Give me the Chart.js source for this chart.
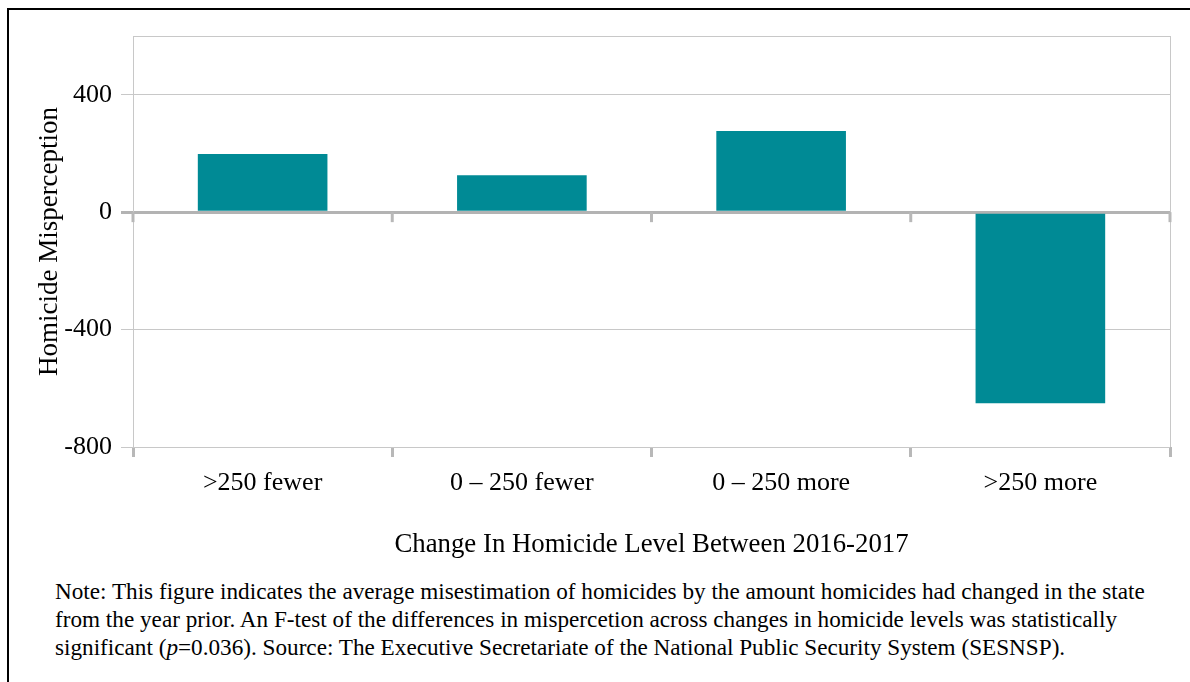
<!DOCTYPE html>
<html>
<head>
<meta charset="utf-8">
<script src="https://cdn.jsdelivr.net/npm/chart.js@4"></script>
<style>
  body { margin: 0; background: #fff; }
  #frame { position: absolute; left: 7px; top: 8px; width: 1200px; height: 700px; border: 2px solid #000; }
  #wrap { position: absolute; left: 0; top: 0; width: 1190px; height: 570px; }
  #note { position: absolute; left: 55px; top: 577px; font-family: "Liberation Serif", serif; font-size: 23.2px; line-height: 28px; color: #000; white-space: nowrap; }
</style>
</head>
<body>
<div id="frame"></div>
<div id="wrap"><canvas id="chartCanvas" width="1190" height="570"></canvas></div>
<div id="note">Note: This figure indicates the average misestimation of homicides by the amount homicides had changed in the state<br>from the year prior. An F-test of the differences in mispercetion across changes in homicide levels was statistically<br>significant (<i>p</i>=0.036). Source: The Executive Secretariate of the National Public Security System (SESNSP).</div>
<script>
const categories = [">250 fewer", "0 \u2013 250 fewer", "0 \u2013 250 more", ">250 more"];
const misperception = [198, 126, 276, -651];
const yTicks = [-800, -400, 0, 400];
const yMin = -800;
const yMax = 600;

Chart.defaults.font.family = "'Liberation Serif', 'Times New Roman', serif";
Chart.defaults.color = "#000";

// small ticks hanging under the zero line, at the category boundaries
const zeroAxisTicks = {
  id: "zeroAxisTicks",
  beforeDatasetsDraw(chart) {
    const { ctx, scales: { x, y } } = chart;
    const y0 = y.getPixelForValue(0);
    const edges = [x.left];
    for (let i = 1; i < categories.length; i++) {
      edges.push((x.getPixelForValue(i - 1) + x.getPixelForValue(i)) / 2);
    }
    edges.push(x.right);
    ctx.save();
    ctx.strokeStyle = "#b8b8b8";
    ctx.lineWidth = 3;
    edges.forEach((px) => {
      ctx.beginPath();
      ctx.moveTo(px, y0);
      ctx.lineTo(px, y0 + 10);
      ctx.stroke();
    });
    ctx.restore();
  }
};

new Chart(document.getElementById("chartCanvas"), {
  type: "bar",
  data: {
    labels: categories,
    datasets: [
      { label: "Homicide Misperception", data: misperception, backgroundColor: "#008a95", barPercentage: 0.5, categoryPercentage: 1 }
    ]
  },
  options: {
    responsive: false,
    animation: false,
    layout: { padding: { left: 20, top: 36, right: 20, bottom: 3 } },
    plugins: { legend: { display: false }, tooltip: { enabled: false } },
    scales: {
      x: {
        afterFit: (s) => { s.height = 120; },
        ticks: { font: { size: 26 }, padding: 11, maxRotation: 0 },
        grid: {
          offset: true,
          color: (c) => (c.index === 0 || c.index === undefined) ? "#c8c8c8" : "rgba(0,0,0,0)",
          tickColor: "#b8b8b8",
          tickWidth: 3,
          tickLength: 10
        },
        border: { display: false },
        title: { display: true, text: "Change In Homicide Level Between 2016-2017", font: { size: 26.8 }, padding: { bottom: 6 } }
      },
      y: {
        min: yMin,
        max: yMax,
        afterFit: (s) => { s.width = 113; },
        afterBuildTicks: (s) => { s.ticks = yTicks.concat(yMax).map((value) => ({ value })); },
        ticks: { font: { size: 26 }, padding: 9, callback: (v) => v === yMax ? "" : String(v) },
        grid: {
          color: (c) => c.tick && c.tick.value === 0 ? "#b3b3b3" : "#c8c8c8",
          tickColor: (c) => c.tick && c.tick.value === yMax ? "rgba(0,0,0,0)" : (c.tick && c.tick.value === 0 ? "#b3b3b3" : "#c8c8c8"),
          lineWidth: (c) => c.tick && c.tick.value === 0 ? 3 : 1,
          tickLength: 12
        },
        border: { color: "#c8c8c8", width: 1 },
        title: { display: true, text: "Homicide Misperception", font: { size: 27 }, padding: { top: 14 } }
      }
    }
  },
  plugins: [zeroAxisTicks]
});
</script>
</body>
</html>
